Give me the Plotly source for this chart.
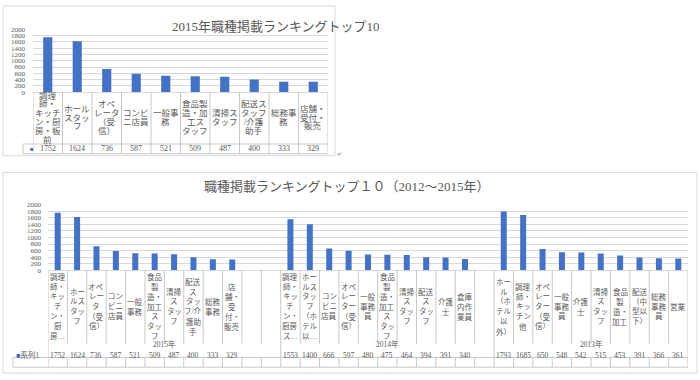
import plotly.graph_objects as go

W, H = 700, 380

# ---------------- data ----------------
top_title = "2015年職種掲載ランキングトップ10"
bottom_title = "職種掲載ランキングトップ１０（2012～2015年）"
series_name = "系列1"
y_ticks = [0, 200, 400, 600, 800, 1000, 1200, 1400, 1600, 1800, 2000]

top_labels = ["調理\n師・\nキッチ\nン・厨\n房・板\n前", "ホール\nスタッ\nフ", "オペ\nレータ\n（受\n信）",
              "コンビ\nニ店員", "一般事\n務", "食品製\n造・加\n工ス\nタッフ", "清掃ス\nタッフ",
              "配送ス\nタッフ\n/介護\n助手", "総務事\n務", "店舗・\n受付・\n販売"]
values_2015 = [1752, 1624, 736, 587, 521, 509, 487, 400, 333, 329]

groups = ["2015年", "2014年", "2013年"]
labels_2015 = ["調理\n師・\nキッ\nチ\nン・\n厨\n房…", "ホー\nルス\nタッ\nフ", "オペ\nレー\nタ\n（受\n信）",
               "コン\nビニ\n店員", "一般\n事務", "食品\n製\n造・\n加工\nス\nタッ\nフ", "清掃\nス\nタッ\nフ",
               "配送\nス\nタッ\nフ/介\n護助\n手", "総務\n事務", "店\n舗・\n受\n付・\n販売"]
labels_2014 = ["調理\n師・\nキッ\nチ\nン・\n厨房\nス…", "ホー\nルス\nタッ\nフ\n（ホ\nテル\n以…", "コン\nビニ\n店員",
               "オペ\nレー\nター\n（受\n信）", "一般\n事務\n員", "食品\n製\n造・\n加工\nス\nタッ\nフ",
               "清掃\nス\nタッ\nフ", "配送\nス\nタッ\nフ", "介護\n士", "倉庫\n内作\n業員"]
values_2014 = [1553, 1400, 666, 597, 480, 475, 464, 394, 391, 340]
labels_2013 = ["ホー\nル\n（ホ\nテル\n以\n外）", "調理\n師・\nキッ\nチン\n他", "オペ\nレー\nター\n（受\n信）",
               "一般\n事務\n員", "介護\n士", "清掃\nス\nタッ\nフ", "食品\n製\n造・\n加工", "配送\n（中\n型以\n下）",
               "総務\n事務\n員", "営業"]
values_2013 = [1793, 1685, 650, 548, 542, 515, 453, 391, 366, 361]

group_labels = [labels_2015, labels_2014, labels_2013]
group_values = [values_2015, values_2014, values_2013]
group_blanks = [2, 1, 0]   # empty category slots after each group

# ---------------- style ----------------
BLUE = "#4472C4"
TXT = "#595959"
GRID = "#D9D9D9"
LINE = "#C8C8C8"
FONT = "Liberation Serif, Noto Sans CJK JP, serif"


def fx(x):
    return x / W


def fy(y):
    return 1 - y / H


fig = go.Figure()
annotations = []
shapes = []

# ---------------- top chart ----------------
n_top = len(values_2015)
fig.add_trace(go.Bar(x=list(range(n_top)), y=values_2015, xaxis="x", yaxis="y", width=0.31,
                     marker=dict(color=BLUE, line_width=0), hoverinfo="skip"))

# ---------------- bottom chart ----------------
pos = 0
bx, by, blab, bounds_group = [], [], [], [-0.5]
group_centers = []
for labs, vals, blanks in zip(group_labels, group_values, group_blanks):
    start = pos
    for lab, v in zip(labs, vals):
        bx.append(pos)
        by.append(v)
        blab.append(lab)
        pos += 1
    pos += blanks
    group_centers.append((start - 0.5 + pos - 0.5) / 2)
    bounds_group.append(pos - 0.5)
n_bot = pos
fig.add_trace(go.Bar(x=bx, y=by, xaxis="x2", yaxis="y2", width=0.31,
                     marker=dict(color=BLUE, line_width=0), hoverinfo="skip"))


def multiline(xref, x, text, yc, spacing, size):
    lines = text.split("\n")
    n = len(lines)
    for k, ln in enumerate(lines):
        yy = yc + (k - (n - 1) / 2) * spacing
        annotations.append(dict(xref=xref, yref="paper", x=x, y=fy(yy), text=ln, showarrow=False,
                                xanchor="center", yanchor="middle",
                                font=dict(family=FONT, size=size, color=TXT)))


# top labels / table
for i, lab in enumerate(top_labels):
    multiline("x", i, lab, 116, 9, 8.5)
for i, v in enumerate(values_2015):
    annotations.append(dict(xref="x", yref="paper", x=i, y=fy(148), text=str(v), showarrow=False,
                            font=dict(family=FONT, size=8, color=TXT)))
annotations.append(dict(xref="paper", yref="paper", x=fx(28), y=fy(148), text="■", showarrow=False,
                        font=dict(family=FONT, size=6, color=BLUE)))
for b in range(n_top + 1):
    shapes.append(dict(type="line", xref="x", yref="paper", x0=b - 0.5, x1=b - 0.5, y0=fy(90), y1=fy(153),
                       line=dict(color=LINE, width=1)))
for yy in (143, 153):
    shapes.append(dict(type="line", xref="paper", yref="paper", x0=fx(23), x1=fx(328), y0=fy(yy), y1=fy(yy),
                       line=dict(color=LINE, width=1)))
shapes.append(dict(type="line", xref="paper", yref="paper", x0=fx(23), x1=fx(23), y0=fy(143), y1=fy(153),
                   line=dict(color=LINE, width=1)))

# bottom labels / table
for x, lab in zip(bx, blab):
    multiline("x2", x, lab, 309.5, 10.2, 7.5)
for x, v in zip(bx, by):
    annotations.append(dict(xref="x2", yref="paper", x=x, y=fy(366), text=str(v), showarrow=False,
                            font=dict(family=FONT, size=7.5, color=TXT)))
for c, g in zip(group_centers, groups):
    annotations.append(dict(xref="x2", yref="paper", x=c, y=fy(354), text=g, showarrow=False,
                            font=dict(family=FONT, size=7.5, color=TXT)))
annotations.append(dict(xref="paper", yref="paper", x=fx(14), y=fy(366), xanchor="left",
                        text=f"<span style='color:{BLUE}'>■</span>{series_name}", showarrow=False,
                        font=dict(family=FONT, size=7.5, color=TXT)))
for b in range(n_bot + 1):
    xb = b - 0.5
    if xb in bounds_group:
        shapes.append(dict(type="line", xref="x2", yref="paper", x0=xb, x1=xb, y0=fy(272), y1=fy(371),
                           line=dict(color=LINE, width=1)))
    else:
        shapes.append(dict(type="line", xref="x2", yref="paper", x0=xb, x1=xb, y0=fy(272), y1=fy(347),
                           line=dict(color=LINE, width=1)))
        shapes.append(dict(type="line", xref="x2", yref="paper", x0=xb, x1=xb, y0=fy(361), y1=fy(371),
                           line=dict(color=LINE, width=1)))
for yy in (361, 371):
    shapes.append(dict(type="line", xref="paper", yref="paper", x0=fx(13), x1=fx(688), y0=fy(yy), y1=fy(yy),
                       line=dict(color=LINE, width=1)))
shapes.append(dict(type="line", xref="paper", yref="paper", x0=fx(13), x1=fx(13), y0=fy(361), y1=fy(371),
                   line=dict(color=LINE, width=1)))

# chart frames
shapes.append(dict(type="rect", xref="paper", yref="paper", x0=fx(3), x1=fx(335), y0=fy(155), y1=fy(2),
                   line=dict(color=GRID, width=1)))
shapes.append(dict(type="rect", xref="paper", yref="paper", x0=fx(3), x1=fx(697), y0=fy(377), y1=fy(172),
                   line=dict(color=GRID, width=1)))

# titles
annotations.append(dict(xref="paper", yref="paper", x=fx(170), y=fy(13), text=top_title, showarrow=False,
                        font=dict(family=FONT, size=13, color=TXT)))
annotations.append(dict(xref="paper", yref="paper", x=fx(347), y=fy(186), text=bottom_title, showarrow=False,
                        font=dict(family=FONT, size=13, color=TXT)))
annotations.append(dict(xref="paper", yref="paper", x=fx(339), y=fy(153), text="↵", showarrow=False,
                        font=dict(family="DejaVu Sans", size=6, color="#888888")))

yax = dict(range=[0, 2000], tickvals=y_ticks, showgrid=True, gridcolor=GRID, gridwidth=1,
           zeroline=True, zerolinecolor=GRID, zerolinewidth=1, showline=False, ticks="",
           tickfont=dict(family=FONT, size=7, color=TXT), fixedrange=True)
xax = dict(showticklabels=False, showgrid=False, zeroline=False, showline=False, ticks="", fixedrange=True)

fig.update_layout(
    width=W, height=H, margin=dict(l=0, r=0, t=0, b=0),
    paper_bgcolor="white", plot_bgcolor="white", showlegend=False,
    xaxis=dict(xax, domain=[fx(33), fx(328)], range=[-0.5, n_top - 0.5], anchor="y"),
    yaxis=dict(yax, domain=[fy(90), fy(26)], anchor="x", ticklabelstandoff=7),
    xaxis2=dict(xax, domain=[fx(48), fx(688)], range=[-0.5, n_bot - 0.5], anchor="y2"),
    yaxis2=dict(yax, domain=[fy(272), fy(205)], anchor="x2", ticklabelstandoff=6),
    annotations=annotations, shapes=shapes,
)

fig.write_html("out.html", config={"displayModeBar": False},
               post_script="document.body.style.margin='0';document.body.style.overflow='hidden';")
